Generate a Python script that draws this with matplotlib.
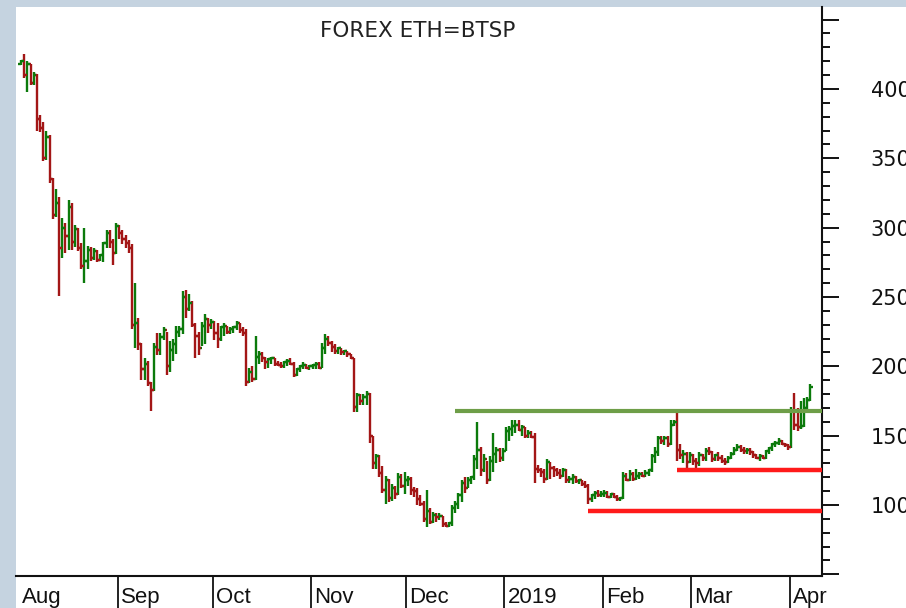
import matplotlib
matplotlib.use("Agg")
import matplotlib.pyplot as plt
import matplotlib.transforms as mtransforms
from matplotlib.patches import Rectangle
from matplotlib.ticker import MultipleLocator, FuncFormatter
import numpy as np

plt.rcParams['font.family'] = ['DejaVu Sans']

# ---------------- data (daily ETH bars, 1 Aug 2018 -> 7 Apr 2019) ----------------
first_open = 418
high = [
    # Aug
    421, 425, 420, 418, 412, 411, 381, 376, 370, 367, 336, 328, 322, 307, 303, 320, 318, 302, 300, 289,
    300, 287, 286, 285, 284, 281, 290, 298, 298, 292, 303,
    # Sep
    302, 298, 295, 291, 288, 260, 235, 217, 206, 204, 189, 217, 224, 224, 228, 225, 218, 220, 229, 229,
    254, 255, 252, 247, 231, 225, 232, 238, 235, 234,
    # Oct
    233, 231, 229, 231, 229, 228, 229, 233, 231, 228, 227, 199, 200, 222, 211, 210, 207, 206, 207, 206,
    204, 203, 204, 205, 206, 203, 199, 201, 203, 202, 201,
    # Nov
    202, 203, 203, 217, 223, 222, 218, 216, 214, 213, 212, 211, 209, 206, 181, 180, 180, 182, 181, 150,
    137, 136, 128, 121, 119, 115, 114, 123, 122, 124,
    # Dec
    121, 120, 113, 112, 107, 103, 111, 98, 95, 94, 94, 92, 88, 88, 100, 103, 109, 118, 120, 120,
    121, 136, 160, 142, 137, 132, 135, 152, 142, 141, 141,
    # Jan
    156, 157, 161, 161, 161, 158, 156, 154, 153, 152, 129, 127, 126, 133, 131, 128, 127, 126, 127, 126,
    121, 122, 121, 119, 118, 117, 115, 108, 110, 111, 110,
    # Feb
    111, 110, 109, 109, 107, 106, 124, 123, 125, 124, 126, 124, 124, 125, 126, 137, 142, 150, 150, 150,
    150, 161, 161, 167, 144, 140, 138, 138,
    # Mar
    137, 134, 138, 137, 141, 142, 139, 137, 138, 136, 134, 135, 138, 142, 144, 143, 142, 141, 141, 139,
    137, 137, 136, 140, 142, 145, 146, 148, 147, 145, 144,
    # Apr
    171, 181, 170, 175, 177, 178, 187,
]
low = [
    417, 408, 398, 403, 403, 370, 369, 348, 349, 332, 306, 308, 251, 278, 282, 284, 284, 286, 283, 270,
    260, 270, 276, 277, 275, 276, 275, 285, 285, 273, 281,
    292, 288, 285, 282, 227, 213, 212, 190, 190, 186, 168, 182, 208, 208, 219, 194, 196, 204, 209, 221,
    223, 235, 240, 228, 206, 208, 215, 216, 224, 227,
    219, 213, 218, 222, 223, 223, 224, 226, 224, 222, 186, 188, 189, 190, 202, 203, 198, 199, 202, 200,
    200, 199, 199, 200, 201, 192, 193, 196, 198, 198, 197,
    198, 198, 198, 199, 209, 215, 210, 209, 209, 208, 208, 207, 205, 167, 167, 172, 172, 172, 145, 126,
    126, 120, 109, 101, 102, 103, 104, 107, 112, 108,
    114, 107, 106, 100, 99, 88, 84, 86, 87, 88, 89, 84, 84, 84, 85, 94, 97, 102, 109, 112,
    115, 118, 126, 121, 124, 115, 117, 124, 130, 131, 132,
    139, 146, 150, 152, 153, 150, 148, 148, 148, 116, 123, 120, 116, 118, 119, 120, 121, 119, 120, 116,
    116, 115, 116, 115, 114, 112, 101, 102, 104, 106, 106,
    106, 105, 105, 105, 103, 103, 104, 117, 117, 117, 118, 119, 120, 120, 121, 124, 130, 135, 144, 143,
    142, 143, 157, 132, 133, 130, 127, 130,
    129, 127, 128, 132, 132, 136, 131, 132, 132, 130, 129, 130, 133, 136, 139, 138, 137, 137, 136, 134,
    133, 132, 133, 133, 137, 139, 142, 143, 143, 142, 140,
    141, 154, 153, 155, 156, 166, 175,
]
close = [
    420, 410, 418, 404, 410, 378, 372, 350, 365, 335, 309, 318, 285, 300, 294, 315, 290, 299, 285, 272,
    276, 284, 278, 283, 277, 280, 289, 296, 290, 282, 301,
    296, 292, 289, 285, 230, 231, 216, 198, 202, 188, 183, 214, 212, 221, 226, 200, 212, 216, 225, 227,
    250, 241, 246, 230, 222, 213, 229, 234, 230, 232,
    224, 220, 228, 229, 225, 227, 228, 231, 226, 224, 189, 196, 191, 207, 209, 206, 203, 205, 206, 202,
    201, 200, 203, 204, 202, 194, 198, 200, 201, 199, 200,
    201, 202, 199, 213, 220, 217, 214, 211, 213, 210, 211, 209, 206, 171, 179, 175, 178, 180, 150, 130,
    135, 123, 111, 118, 105, 112, 108, 120, 114, 118,
    119, 111, 110, 104, 101, 90, 96, 88, 93, 91, 92, 86, 85, 87, 98, 101, 107, 116, 112, 118,
    120, 133, 140, 125, 133, 118, 132, 137, 140, 134, 139,
    153, 155, 157, 158, 154, 156, 150, 152, 149, 126, 125, 124, 119, 131, 127, 125, 123, 121, 125, 118,
    119, 120, 117, 118, 115, 114, 104, 107, 109, 107, 108,
    109, 106, 108, 106, 104, 105, 121, 118, 122, 119, 121, 122, 121, 123, 125, 135, 138, 148, 146, 148,
    144, 158, 160, 140, 136, 137, 131, 136,
    132, 130, 136, 134, 139, 138, 133, 136, 134, 132, 131, 134, 137, 140, 142, 140, 139, 140, 138, 136,
    134, 135, 134, 139, 141, 144, 145, 146, 144, 143, 142,
    168, 158, 156, 157, 170, 176, 185,
]

month_labels = ['Aug', 'Sep', 'Oct', 'Nov', 'Dec', '2019', 'Feb', 'Mar', 'Apr']
month_start_day = [0, 31, 61, 92, 122, 153, 184, 212, 243]

# support / resistance lines: (level, first day)
resistance_level, resistance_start = 167.5, 137
support_levels = [125.4, 96.0]
support_starts = [207, 179]

title = 'FOREX ETH=BTSP'

# ---------------- figure ----------------
W, H = 906, 608
fig = plt.figure(figsize=(W / 100, H / 100), dpi=100, facecolor='#c5d3e0')
fig.patches.append(Rectangle((16 / W, 0), 1 - 16 / W, 1 - 7 / H, transform=fig.transFigure,
                             facecolor='white', edgecolor='none', zorder=-5))
ax = fig.add_axes([16 / W, 32 / H, 806 / W, 569 / H])
ax.set_facecolor('none')
ax.set_zorder(2)

XMIN, XMAX = -1.58, 252.7
ax.set_xlim(XMIN, XMAX)
ax.set_ylim(48.8, 459.1)

GREEN = '#0b7a0b'
RED = '#a31616'

close_a = np.array(close, dtype=float)
high_a = np.array(high, dtype=float)
low_a = np.array(low, dtype=float)
opens = np.concatenate([[first_open], close_a[:-1]])
days = np.arange(len(close_a))
cols = np.where(close_a >= opens, GREEN, RED)

lw = 1.7
ax.vlines(days, low_a, high_a, colors=cols, lw=lw, zorder=3)
ax.hlines(opens, days - 0.8, days, colors=cols, lw=lw, zorder=3)
ax.hlines(close_a, days, days + 0.8, colors=cols, lw=lw, zorder=3)

ax.plot([resistance_start, XMAX], [resistance_level] * 2, color='#6e9e48', lw=3.0,
        solid_capstyle='butt', zorder=4)
for lvl, st in zip(support_levels, support_starts):
    ax.plot([st, XMAX], [lvl, lvl], color='#ff1a1a', lw=3.2, solid_capstyle='butt', zorder=4)

# spines
for s in ['left', 'top']:
    ax.spines[s].set_visible(False)
ax.spines['right'].set_linewidth(1.5)
ax.spines['bottom'].set_linewidth(1.5)
ax.spines['right'].set_color('#111111')
ax.spines['bottom'].set_color('#111111')

# y axis on right
ax.yaxis.tick_right()
ax.yaxis.set_major_locator(MultipleLocator(50))
ax.yaxis.set_minor_locator(MultipleLocator(10))
ax.yaxis.set_major_formatter(FuncFormatter(lambda v, p: f'{v:.0f}' if 100 <= v <= 400 else ''))
ax.tick_params(axis='y', which='major', length=12, width=1.4, direction='out', pad=23,
               labelsize=15, colors='#111111')
ax.tick_params(axis='y', which='minor', length=6, width=1.4, direction='out', colors='#111111')

# x axis: month separators and labels
ax.set_xticks([])
xt = ax.get_xaxis_transform()
off = mtransforms.ScaledTranslation(3 / 100, 0, fig.dpi_scale_trans)
clip_rect = Rectangle((16 / W, 0), 806 / W, 1, transform=fig.transFigure)
for k, (lab, st) in enumerate(zip(month_labels, month_start_day)):
    pos = st - 0.5
    if k > 0:
        ax.plot([pos, pos], [0, -33 / 569], transform=xt, clip_on=False, color='#111111', lw=1.3)
    t = ax.text(pos, -11 / 569, lab, transform=xt + off, ha='left', va='top', fontsize=16,
                family=['Liberation Sans', 'DejaVu Sans'], color='#111111')
    t.set_clip_path(clip_rect)

fig.text(418 / W, 1 - 31 / H, title, ha='center', va='center', fontsize=15.5, color='#222222')

fig.savefig('out.png', dpi=100, facecolor=fig.get_facecolor())
